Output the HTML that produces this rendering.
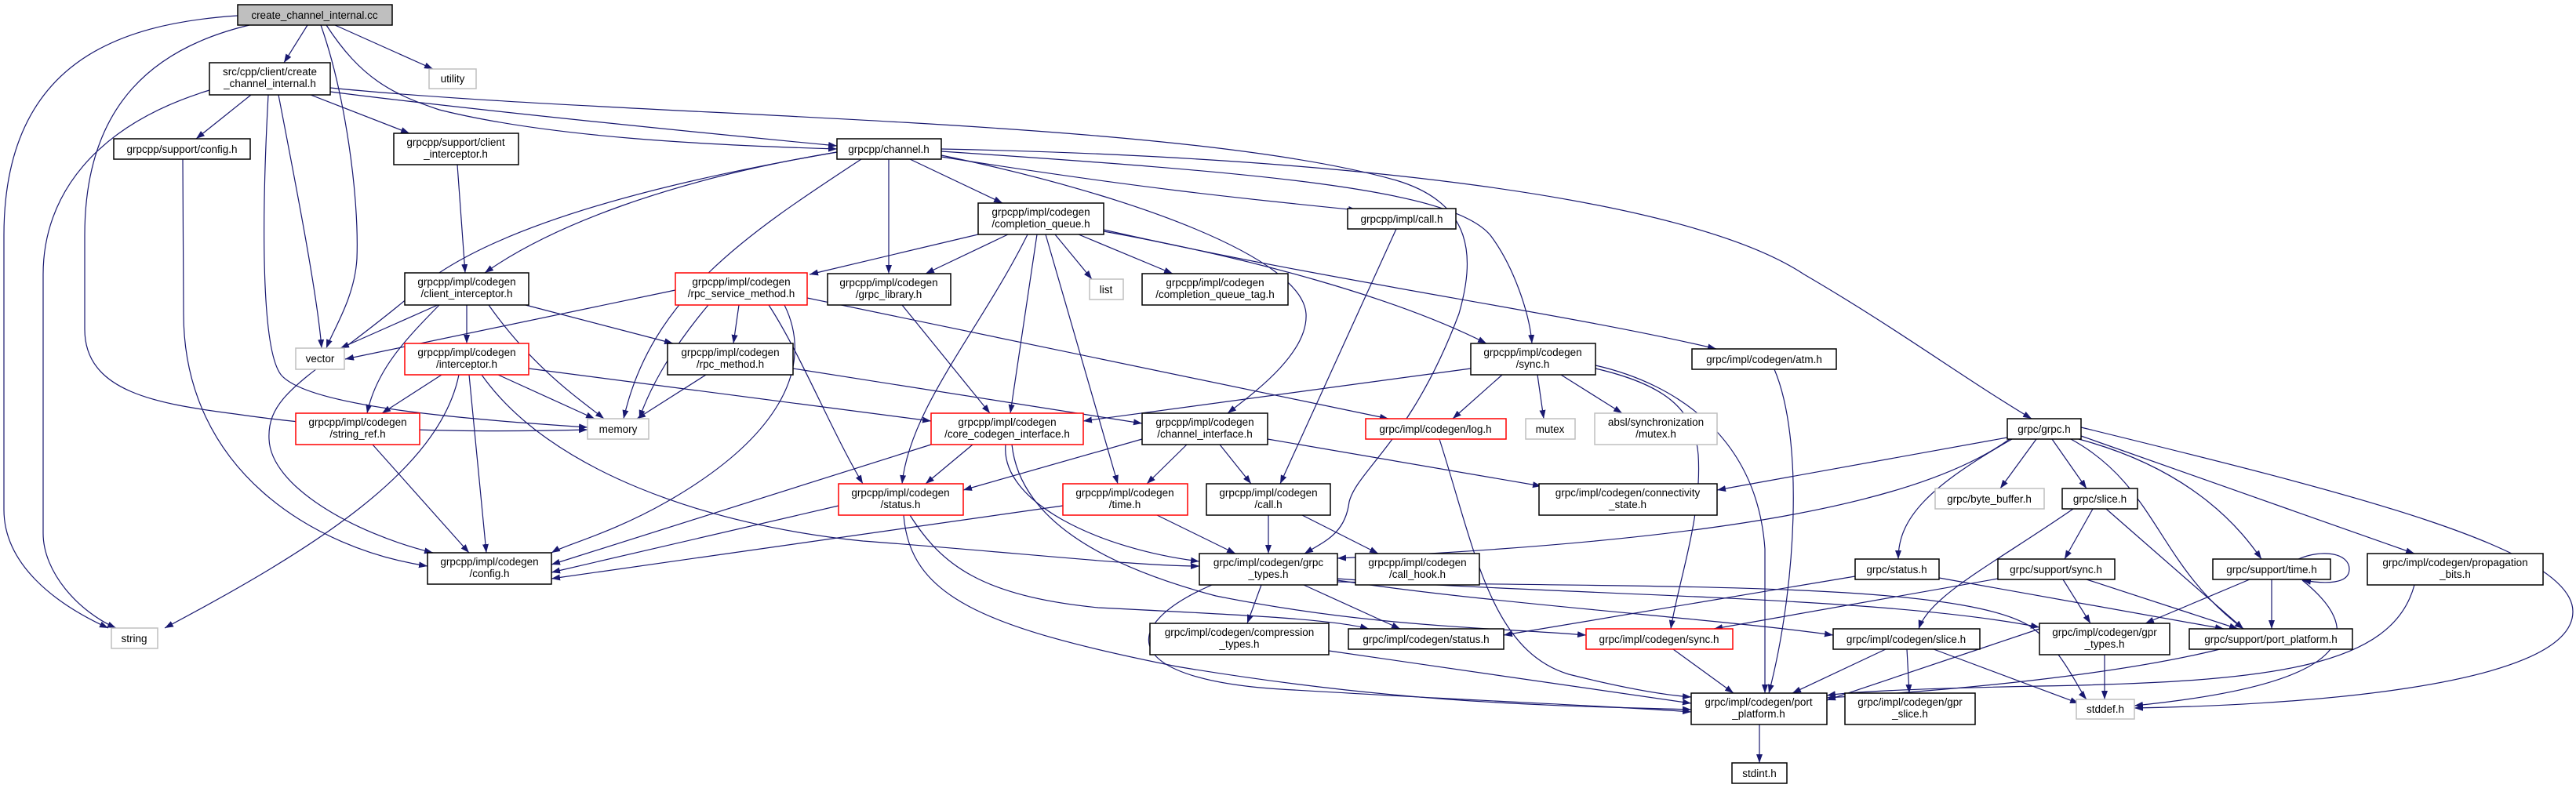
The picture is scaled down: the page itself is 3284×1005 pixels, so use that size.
<!DOCTYPE html>
<html><head><meta charset="utf-8"><style>
html,body{margin:0;padding:0;background:#fff;width:3284px;height:1005px;overflow:hidden}
svg{display:block}
text{font-family:"Liberation Sans",Helvetica,sans-serif;font-size:13.5px;fill:#000;text-anchor:middle}
.n rect{fill:#fff;stroke:#000;stroke-width:1.5}
.r rect{fill:#fff;stroke:#ff0000;stroke-width:1.5}
.g rect{fill:#fff;stroke:#bfbfbf;stroke-width:1.5}
path.e{fill:none;stroke:#191970;stroke-width:1.2}
</style></head><body>
<svg width="3284" height="1005" viewBox="0 0 3284 1005" xmlns="http://www.w3.org/2000/svg">
<defs><marker id="a" markerUnits="userSpaceOnUse" markerWidth="12" markerHeight="9" refX="11" refY="4" orient="auto"><path d="M0,0 L11,4 L0,8 z" fill="#191970"/></marker></defs>
<g marker-end="url(#a)">
<path class="e" d="M303,20 C150,30 5,80 5,300 L5,650 C5,720 70,770 138,801"/>
<path class="e" d="M318,32 C200,60 108,130 108,300 L108,420 C108,500 200,515 300,528 C450,550 600,552 749,548"/>
<path class="e" d="M392,32 L362,80"/>
<path class="e" d="M409,32 C440,120 458,250 455,330 C452,380 425,420 416,444"/>
<path class="e" d="M427,32 L552,88"/>
<path class="e" d="M416,32 C460,100 500,120 560,140 C700,175 900,185 1067,190"/>
<path class="e" d="M320,121 L250,177"/>
<path class="e" d="M396,121 L522,170"/>
<path class="e" d="M421,117 C600,140 900,170 1067,186"/>
<path class="e" d="M421,112 C800,150 1500,150 1780,230 C1880,260 1880,330 1860,400 C1800,560 1730,600 1720,640 C1715,680 1690,690 1663,706"/>
<path class="e" d="M355,121 C380,250 405,380 410,444"/>
<path class="e" d="M342,121 C335,250 330,450 360,480 C400,520 600,535 749,545"/>
<path class="e" d="M267,115 C120,160 55,250 55,350 L55,680 C55,730 100,780 148,801"/>
<path class="e" d="M233,203 L234,400 C234,600 400,700 545,722"/>
<path class="e" d="M583,210 L593,348"/>
<path class="e" d="M1067,194 C850,230 700,290 618,348"/>
<path class="e" d="M1067,194 C800,240 600,300 520,380 C400,480 340,500 343,560 C345,620 450,680 552,705"/>
<path class="e" d="M1098,203 C950,300 830,380 795,534"/>
<path class="e" d="M1133,203 L1133,349"/>
<path class="e" d="M1160,203 L1278,259"/>
<path class="e" d="M1200,200 C1450,240 1600,255 1730,268"/>
<path class="e" d="M1200,198 C1450,250 1660,330 1665,400 C1668,450 1600,500 1565,527"/>
<path class="e" d="M1200,193 C1600,220 1850,240 1900,300 C1930,340 1950,400 1953,438"/>
<path class="e" d="M1200,190 C1700,200 2150,250 2300,350 C2420,420 2500,480 2590,534"/>
<path class="e" d="M1247,299 L1032,350"/>
<path class="e" d="M1285,299 L1180,349"/>
<path class="e" d="M1310,299 C1250,420 1160,520 1150,617"/>
<path class="e" d="M1322,299 L1288,527"/>
<path class="e" d="M1333,299 L1425,617"/>
<path class="e" d="M1345,299 L1392,356"/>
<path class="e" d="M1375,299 L1495,349"/>
<path class="e" d="M1407,295 C1600,330 1780,380 1895,438"/>
<path class="e" d="M1407,293 C1700,360 2000,400 2188,445"/>
<path class="e" d="M1780,292 L1632,617"/>
<path class="e" d="M1150,389 L1262,527"/>
<path class="e" d="M861,370 L440,458"/>
<path class="e" d="M903,389 C860,440 830,490 815,534"/>
<path class="e" d="M942,389 L935,438"/>
<path class="e" d="M980,389 C1020,450 1060,550 1100,617"/>
<path class="e" d="M1000,389 C1040,470 990,560 850,640 C780,680 720,695 703,705"/>
<path class="e" d="M1029,380 L1770,534"/>
<path class="e" d="M558,389 L434,444"/>
<path class="e" d="M560,389 C520,430 480,470 468,527"/>
<path class="e" d="M595,389 L595,438"/>
<path class="e" d="M623,389 C680,470 740,510 770,534"/>
<path class="e" d="M670,389 L858,438"/>
<path class="e" d="M563,478 L487,527"/>
<path class="e" d="M635,478 L758,534"/>
<path class="e" d="M598,478 L620,705"/>
<path class="e" d="M585,478 C560,600 400,700 210,801"/>
<path class="e" d="M674,470 L1187,537"/>
<path class="e" d="M614,478 C700,600 900,670 1100,690 C1300,705 1450,722 1529,722"/>
<path class="e" d="M900,478 L812,534"/>
<path class="e" d="M1011,470 L1456,540"/>
<path class="e" d="M475,567 L598,705"/>
<path class="e" d="M1187,567 L703,720"/>
<path class="e" d="M1240,567 L1180,617"/>
<path class="e" d="M1282,567 C1275,640 1400,700 1529,716"/>
<path class="e" d="M1290,567 C1300,660 1400,720 1550,760 C1750,800 1900,800 2022,810"/>
<path class="e" d="M1456,560 L1228,625"/>
<path class="e" d="M1513,567 L1462,617"/>
<path class="e" d="M1555,567 L1595,617"/>
<path class="e" d="M1616,560 L1965,620"/>
<path class="e" d="M1069,645 L703,730"/>
<path class="e" d="M1160,657 C1200,720 1250,760 1400,775 C1600,785 1700,790 1745,802"/>
<path class="e" d="M1152,657 C1160,760 1250,800 1500,850 C1800,900 2000,900 2156,905"/>
<path class="e" d="M1355,645 L703,738"/>
<path class="e" d="M1475,657 L1575,706"/>
<path class="e" d="M1617,657 L1617,706"/>
<path class="e" d="M1660,657 L1757,706"/>
<path class="e" d="M1608,746 L1590,795"/>
<path class="e" d="M1662,746 L1785,802"/>
<path class="e" d="M1545,746 C1420,800 1430,870 1650,880 C1900,895 2050,900 2156,908"/>
<path class="e" d="M1705,740 C1900,770 2200,790 2337,810"/>
<path class="e" d="M1705,738 C2000,760 2400,760 2600,800"/>
<path class="e" d="M1705,742 C2100,750 2500,740 2590,800 C2630,830 2650,880 2660,892"/>
<path class="e" d="M1694,830 L2156,897"/>
<path class="e" d="M2365,735 L1917,810"/>
<path class="e" d="M1835,560 C1880,700 1900,830 2000,860 C2080,880 2130,887 2156,889"/>
<path class="e" d="M1875,470 L1381,537"/>
<path class="e" d="M1915,478 L1852,534"/>
<path class="e" d="M1960,478 L1968,534"/>
<path class="e" d="M1990,478 L2068,527"/>
<path class="e" d="M2034,470 C2120,490 2160,520 2165,580 C2170,660 2140,740 2130,802"/>
<path class="e" d="M2034,466 C2140,490 2240,560 2250,700 L2250,884"/>
<path class="e" d="M2262,471 C2300,560 2290,750 2255,884"/>
<path class="e" d="M2133,828 L2210,884"/>
<path class="e" d="M2559,558 L2189,625"/>
<path class="e" d="M2562,560 C2450,640 2200,690 1705,712"/>
<path class="e" d="M2596,560 L2550,623"/>
<path class="e" d="M2616,560 L2660,623"/>
<path class="e" d="M2565,560 C2460,620 2420,660 2420,713"/>
<path class="e" d="M2640,560 C2750,620 2750,720 2860,802"/>
<path class="e" d="M2650,560 C2800,600 2860,680 2883,713"/>
<path class="e" d="M2653,556 L3078,706"/>
<path class="e" d="M2653,545 C3000,630 3280,700 3280,780 C3280,880 2900,900 2721,903"/>
<path class="e" d="M2643,649 C2540,720 2460,760 2446,802"/>
<path class="e" d="M2668,649 L2632,713"/>
<path class="e" d="M2685,649 L2860,802"/>
<path class="e" d="M2472,737 L2835,802"/>
<path class="e" d="M2547,738 L2185,802"/>
<path class="e" d="M2630,739 L2665,795"/>
<path class="e" d="M2660,739 L2853,802"/>
<path class="e" d="M2930,713 C2960,700 2995,705 2995,726 C2995,745 2965,745 2935,740"/>
<path class="e" d="M2868,739 L2735,795"/>
<path class="e" d="M2896,739 L2896,802"/>
<path class="e" d="M2935,740 C3010,800 3020,870 2721,900"/>
<path class="e" d="M3078,746 C3050,850 2900,870 2600,875 C2450,878 2360,882 2329,887"/>
<path class="e" d="M2600,802 L2329,893"/>
<path class="e" d="M2830,828 C2700,860 2500,880 2329,890"/>
<path class="e" d="M2404,828 L2285,884"/>
<path class="e" d="M2431,828 L2434,884"/>
<path class="e" d="M2465,828 L2650,897"/>
<path class="e" d="M2683,835 L2683,892"/>
<path class="e" d="M2243,924 L2243,973"/>
</g>

<g class="n"><rect x="303" y="6" width="197" height="26" style="fill:#bfbfbf"/><text x="401" y="24">create_channel_internal.cc</text></g>
<g class="n"><rect x="267" y="80" width="154" height="41"/><text x="344" y="96">src/cpp/client/create</text><text x="344" y="111">_channel_internal.h</text></g>
<g class="g"><rect x="547" y="88" width="60" height="25"/><text x="577" y="105">utility</text></g>
<g class="n"><rect x="145" y="177" width="174" height="26"/><text x="232" y="195">grpcpp/support/config.h</text></g>
<g class="n"><rect x="502" y="170" width="159" height="40"/><text x="581" y="186">grpcpp/support/client</text><text x="581" y="201">_interceptor.h</text></g>
<g class="n"><rect x="1067" y="177" width="133" height="26"/><text x="1133" y="195">grpcpp/channel.h</text></g>
<g class="n"><rect x="1247" y="259" width="160" height="40"/><text x="1327" y="275">grpcpp/impl/codegen</text><text x="1327" y="290">/completion_queue.h</text></g>
<g class="n"><rect x="1718" y="266" width="138" height="26"/><text x="1787" y="284">grpcpp/impl/call.h</text></g>
<g class="n"><rect x="516" y="348" width="158" height="41"/><text x="595" y="364">grpcpp/impl/codegen</text><text x="595" y="379">/client_interceptor.h</text></g>
<g class="r"><rect x="861" y="348" width="168" height="41"/><text x="945" y="364">grpcpp/impl/codegen</text><text x="945" y="379">/rpc_service_method.h</text></g>
<g class="n"><rect x="1055" y="349" width="157" height="40"/><text x="1133" y="365">grpcpp/impl/codegen</text><text x="1133" y="380">/grpc_library.h</text></g>
<g class="g"><rect x="1389" y="356" width="43" height="26"/><text x="1410" y="374">list</text></g>
<g class="n"><rect x="1456" y="349" width="186" height="40"/><text x="1549" y="365">grpcpp/impl/codegen</text><text x="1549" y="380">/completion_queue_tag.h</text></g>
<g class="n"><rect x="2157" y="445" width="184" height="26"/><text x="2249" y="463">grpc/impl/codegen/atm.h</text></g>
<g class="g"><rect x="377" y="444" width="62" height="27"/><text x="408" y="462">vector</text></g>
<g class="r"><rect x="516" y="438" width="158" height="40"/><text x="595" y="454">grpcpp/impl/codegen</text><text x="595" y="469">/interceptor.h</text></g>
<g class="n"><rect x="851" y="438" width="160" height="40"/><text x="931" y="454">grpcpp/impl/codegen</text><text x="931" y="469">/rpc_method.h</text></g>
<g class="n"><rect x="1875" y="438" width="159" height="40"/><text x="1954" y="454">grpcpp/impl/codegen</text><text x="1954" y="469">/sync.h</text></g>
<g class="r"><rect x="377" y="527" width="158" height="40"/><text x="456" y="543">grpcpp/impl/codegen</text><text x="456" y="558">/string_ref.h</text></g>
<g class="g"><rect x="749" y="534" width="78" height="26"/><text x="788" y="552">memory</text></g>
<g class="r"><rect x="1187" y="527" width="194" height="40"/><text x="1284" y="543">grpcpp/impl/codegen</text><text x="1284" y="558">/core_codegen_interface.h</text></g>
<g class="n"><rect x="1456" y="527" width="160" height="40"/><text x="1536" y="543">grpcpp/impl/codegen</text><text x="1536" y="558">/channel_interface.h</text></g>
<g class="r"><rect x="1741" y="534" width="179" height="26"/><text x="1830" y="552">grpc/impl/codegen/log.h</text></g>
<g class="g"><rect x="1945" y="534" width="63" height="26"/><text x="1976" y="552">mutex</text></g>
<g class="g"><rect x="2033" y="527" width="156" height="40"/><text x="2111" y="543">absl/synchronization</text><text x="2111" y="558">/mutex.h</text></g>
<g class="n"><rect x="2559" y="534" width="94" height="26"/><text x="2606" y="552">grpc/grpc.h</text></g>
<g class="r"><rect x="1069" y="617" width="159" height="40"/><text x="1148" y="633">grpcpp/impl/codegen</text><text x="1148" y="648">/status.h</text></g>
<g class="r"><rect x="1355" y="617" width="159" height="40"/><text x="1434" y="633">grpcpp/impl/codegen</text><text x="1434" y="648">/time.h</text></g>
<g class="n"><rect x="1538" y="617" width="158" height="40"/><text x="1617" y="633">grpcpp/impl/codegen</text><text x="1617" y="648">/call.h</text></g>
<g class="n"><rect x="1962" y="617" width="227" height="40"/><text x="2075" y="633">grpc/impl/codegen/connectivity</text><text x="2075" y="648">_state.h</text></g>
<g class="g"><rect x="2467" y="623" width="139" height="26"/><text x="2536" y="641">grpc/byte_buffer.h</text></g>
<g class="n"><rect x="2629" y="623" width="96" height="26"/><text x="2677" y="641">grpc/slice.h</text></g>
<g class="n"><rect x="545" y="705" width="158" height="40"/><text x="624" y="721">grpcpp/impl/codegen</text><text x="624" y="736">/config.h</text></g>
<g class="n"><rect x="1529" y="706" width="176" height="40"/><text x="1617" y="722">grpc/impl/codegen/grpc</text><text x="1617" y="737">_types.h</text></g>
<g class="n"><rect x="1728" y="706" width="158" height="40"/><text x="1807" y="722">grpcpp/impl/codegen</text><text x="1807" y="737">/call_hook.h</text></g>
<g class="n"><rect x="2365" y="713" width="107" height="26"/><text x="2418" y="731">grpc/status.h</text></g>
<g class="n"><rect x="2547" y="713" width="149" height="26"/><text x="2621" y="731">grpc/support/sync.h</text></g>
<g class="n"><rect x="2821" y="713" width="150" height="26"/><text x="2896" y="731">grpc/support/time.h</text></g>
<g class="n"><rect x="3018" y="706" width="224" height="40"/><text x="3130" y="722">grpc/impl/codegen/propagation</text><text x="3130" y="737">_bits.h</text></g>
<g class="g"><rect x="142" y="801" width="59" height="26"/><text x="171" y="819">string</text></g>
<g class="n"><rect x="1466" y="795" width="228" height="40"/><text x="1580" y="811">grpc/impl/codegen/compression</text><text x="1580" y="826">_types.h</text></g>
<g class="n"><rect x="1719" y="802" width="198" height="26"/><text x="1818" y="820">grpc/impl/codegen/status.h</text></g>
<g class="r"><rect x="2022" y="802" width="187" height="26"/><text x="2115" y="820">grpc/impl/codegen/sync.h</text></g>
<g class="n"><rect x="2337" y="802" width="187" height="26"/><text x="2430" y="820">grpc/impl/codegen/slice.h</text></g>
<g class="n"><rect x="2600" y="795" width="166" height="40"/><text x="2683" y="811">grpc/impl/codegen/gpr</text><text x="2683" y="826">_types.h</text></g>
<g class="n"><rect x="2791" y="802" width="208" height="26"/><text x="2895" y="820">grpc/support/port_platform.h</text></g>
<g class="n"><rect x="2156" y="884" width="173" height="40"/><text x="2242" y="900">grpc/impl/codegen/port</text><text x="2242" y="915">_platform.h</text></g>
<g class="n"><rect x="2352" y="884" width="166" height="40"/><text x="2435" y="900">grpc/impl/codegen/gpr</text><text x="2435" y="915">_slice.h</text></g>
<g class="g"><rect x="2647" y="892" width="74" height="25"/><text x="2684" y="909">stddef.h</text></g>
<g class="n"><rect x="2208" y="973" width="70" height="26"/><text x="2243" y="991">stdint.h</text></g>
</svg>
</body></html>
